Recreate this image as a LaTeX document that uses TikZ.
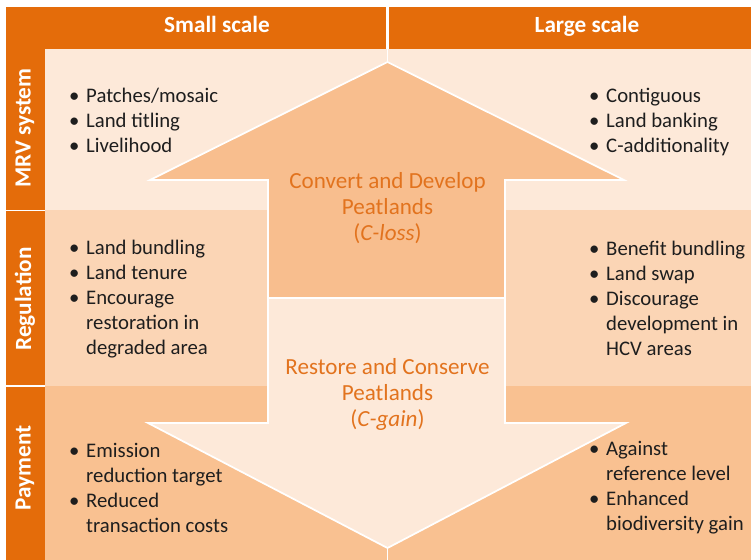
\documentclass[tikz,border=0pt]{standalone}
\usepackage{fontspec}
\setmainfont{Carlito}

\definecolor{hdrorange}{RGB}{228,108,10}
\definecolor{mrvbg}{RGB}{253,233,217}
\definecolor{regbg}{RGB}{251,213,181}
\definecolor{paybg}{RGB}{249,193,145}
\definecolor{uparr}{RGB}{248,190,142}
\definecolor{txtor}{RGB}{226,115,30}
\definecolor{txtdk}{RGB}{30,30,30}

\newcommand{\itm}{\makebox[14.5pt][l]{\textbullet}}
\newcommand{\cnt}{\hspace*{14.5pt}}

\begin{document}
\begin{tikzpicture}[x=0.03cm,y=-0.03cm,
    headtxt/.style={text=white, font=\fontsize{19.8}{23}\selectfont\bfseries},
    lst/.style={anchor=north west, inner sep=0pt, align=left, text=txtdk,
      font=\fontsize{17.7}{21.3}\selectfont},
    mid/.style={anchor=north, inner sep=0pt, align=center, text=txtor,
      font=\fontsize{19.7}{22.2}\selectfont},
    cut/.style={draw=white, line width=1.5pt}]
   \useasboundingbox (0,0) rectangle (751,560);
   % rows
   \fill[mrvbg] (45,49) rectangle (751,210);
   \fill[regbg] (45,210) rectangle (751,386);
   \fill[paybg] (45,386) rectangle (751,560);
   % headers and row labels
   \fill[hdrorange] (6,7) rectangle (386,49);
   \fill[hdrorange] (389,7) rectangle (751,49);
   \fill[hdrorange] (6,7) rectangle (45,209.5);
   \fill[hdrorange] (6,211) rectangle (45,385);
   \fill[hdrorange] (6,387) rectangle (45,560);
   % arrows
   \draw[cut, fill=uparr] (387.5,62) -- (624,180) -- (505,180) -- (505,298)
      -- (268,298) -- (268,180) -- (150,180) -- cycle;
   \draw[cut, fill=mrvbg] (268,298) -- (505,298) -- (505,423) -- (626,423)
      -- (387.5,548) -- (148,423) -- (268,423) -- cycle;
   \draw[cut] (387.5,7) -- (387.5,62);
   \draw[cut] (387.5,548) -- (387.5,560);
   \node[headtxt, anchor=base] (small) at (217,32) {Small scale};
   \node[headtxt, anchor=base] (large) at (587,32) {Large scale};
   \node[headtxt, rotate=90] (mrv) at (25,128) {MRV system};
   \node[headtxt, rotate=90] (reg) at (25,299) {Regulation};
   \node[headtxt, rotate=90] (pay) at (25,468) {Payment};
   \node[mid] (loss) at (387.5,172) {Convert and Develop\\Peatlands\\(\textit{C-loss})};
   \node[mid] (gain) at (387.5,358) {Restore and Conserve\\Peatlands\\(\textit{C-gain})};
   \node[lst] (mrvs) at (69,88) {\itm Patches/mosaic\\\itm Land titling\\\itm Livelihood};
   \node[lst] (mrvl) at (589,88) {\itm Contiguous\\\itm Land banking\\\itm C-additionality};
   \node[lst] (regs) at (69,240) {\itm Land bundling\\\itm Land tenure\\\itm Encourage\\
      \cnt restoration in\\\cnt degraded area};
   \node[lst] (regl) at (589,241) {\itm Benefit bundling\\\itm Land swap\\\itm Discourage\\
      \cnt development in\\\cnt HCV areas};
   \node[lst] (pays) at (69,443) {\itm Emission\\\cnt reduction target\\\itm Reduced\\
      \cnt transaction costs};
   \node[lst] (payl) at (589,441) {\itm Against\\\cnt reference level\\\itm Enhanced\\
      \cnt biodiversity gain};
  \end{tikzpicture}
\end{document}
